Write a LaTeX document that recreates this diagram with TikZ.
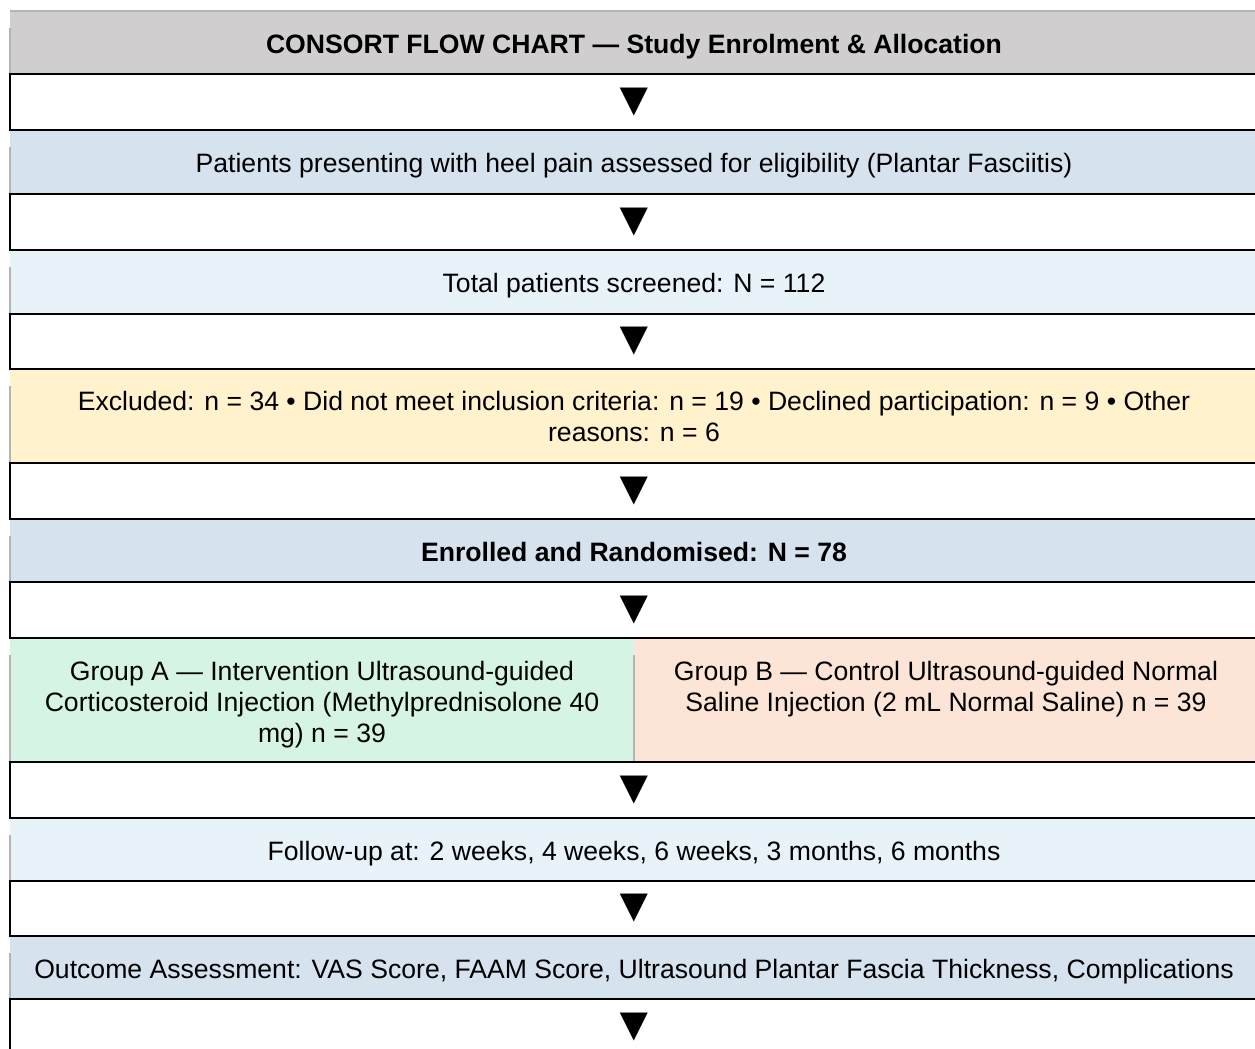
\documentclass[tikz,border=0pt]{standalone}
\usepackage{fontspec}
\setmainfont{Liberation Sans}
\usepackage{tikz}
\usetikzlibrary{positioning}
\definecolor{headgray}{HTML}{D0CECF}
\definecolor{rulegray}{HTML}{B4B4B4}
\definecolor{stepblue}{HTML}{D6E3EF}
\definecolor{paleblue}{HTML}{E8F3F9}
\definecolor{exclyellow}{HTML}{FFF2CC}
\definecolor{groupgreen}{HTML}{D5F4E3}
\definecolor{grouppeach}{HTML}{FCE5D6}
\newcommand{\rowfont}{\fontsize{13.3}{15.5}\selectfont}
\tikzset{my_row/.style={rectangle, inner sep=0pt, outer sep=0pt, minimum width=624pt, font=\rowfont, align=center}}
\tikzset{my_line/.style={my_row, text height=11pt, text depth=0pt}}
\tikzset{my_arrow_row/.style={my_row, minimum height=27.875pt, fill=white, font=\fontsize{24}{24}\selectfont}}
\tikzset{my_half/.style={my_row, minimum width=312pt, minimum height=62pt}}
\tikzset{my_text/.style={inner sep=0pt, outer sep=0pt, font=\rowfont, align=center}}
\tikzset{my_rule/.style={draw=black, line width=1pt}}
\tikzset{my_edge/.style={draw=rulegray, line width=0.8pt}}

\begin{document}
\begin{tikzpicture}
    \clip (0,0) rectangle (627.5pt,-524.5pt);
    \fill[white] (0,0) rectangle (627.5pt,-524.5pt);
    %\draw[help lines] (0,0) grid (627.5pt,-524.5pt);
    \node[my_line, fill=headgray, minimum height=31.5pt, anchor=north west, font=\rowfont\bfseries] (head) at (5pt,-5.5pt) {CONSORT FLOW CHART — Study Enrolment \& Allocation};
    \node[my_arrow_row, below=0pt of head] (arr1) {▼};
    \node[my_line, fill=stepblue, minimum height=32pt, below=0pt of arr1] (assess) {Patients presenting with heel pain assessed for eligibility (Plantar Fasciitis)};
    \node[my_arrow_row, below=0pt of assess] (arr2) {▼};
    \node[my_line, fill=paleblue, minimum height=32pt, below=0pt of arr2] (screened) {Total patients screened: N = 112};
    \node[my_arrow_row, below=0pt of screened] (arr3) {▼};
    \node[my_row, fill=exclyellow, minimum height=47pt, below=0pt of arr3] (excluded) {Excluded: n = 34 • Did not meet inclusion criteria: n = 19 • Declined participation: n = 9 • Other\\reasons: n = 6};
    \node[my_arrow_row, below=0pt of excluded] (arr4) {▼};
    \node[my_line, fill=stepblue, minimum height=31.5pt, below=0pt of arr4, font=\rowfont\bfseries] (enrolled) {Enrolled and Randomised: N = 78};
    \node[my_arrow_row, below=0pt of enrolled] (arr5) {▼};

    % two arms side by side
    \node[my_half, fill=groupgreen, anchor=north west] (groupA) at (arr5.south west) {};
    \node[my_half, fill=grouppeach, right=0pt of groupA] (groupB) {};
    \node[my_text, below=11.5pt of groupA.north] (textA) {Group A — Intervention Ultrasound-guided\\Corticosteroid Injection (Methylprednisolone 40\\mg) n = 39};
    \node[my_text, below=11.5pt of groupB.north] (textB) {Group B — Control Ultrasound-guided Normal\\Saline Injection (2 mL Normal Saline) n = 39};

    \node[my_arrow_row, anchor=north west] (arr6) at (groupA.south west) {▼};
    \node[my_line, fill=paleblue, minimum height=31.5pt, below=0pt of arr6] (follow) {Follow-up at: 2 weeks, 4 weeks, 6 weeks, 3 months, 6 months};
    \node[my_arrow_row, below=0pt of follow] (arr7) {▼};
    \node[my_line, fill=stepblue, minimum height=31.5pt, below=0pt of arr7] (outcome) {Outcome Assessment: VAS Score, FAAM Score, Ultrasound Plantar Fascia Thickness, Complications};
    \node[my_arrow_row, below=0pt of outcome] (arr8) {▼};

    % cell borders
    \draw[my_edge, line width=1pt] (head.north west) -- (head.north east);
    \foreach \c in {head,assess,screened,excluded,enrolled,groupA,groupB,follow,outcome}
        \draw[my_edge] ([yshift=-8.5pt]\c.north west) -- (\c.south west);
    \foreach \a in {arr1,arr2,arr3,arr4,arr5,arr6,arr7,arr8}
        \draw[my_rule] (\a.north west) rectangle (\a.south east);
\end{tikzpicture}
\end{document}
